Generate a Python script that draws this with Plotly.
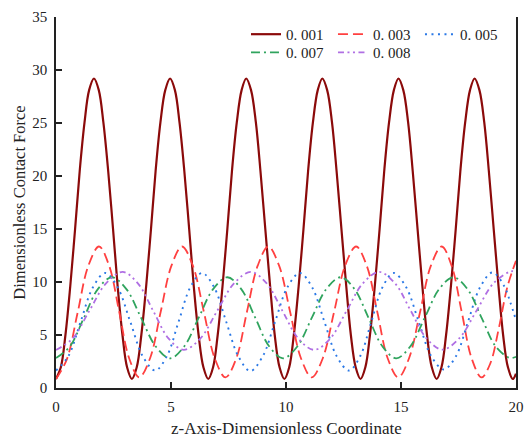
import plotly.graph_objects as go

# ---- data ----
x_001 = [0, 0.21, 0.41, 0.62, 0.83, 1.03, 1.24, 1.44, 1.65, 1.86, 2.06, 2.27, 2.48, 2.68, 2.89, 3.09,
         3.30, 3.51, 3.71, 3.92, 4.13, 4.33, 4.54, 4.75, 4.96, 5.17, 5.37, 5.58, 5.79, 5.99, 6.20, 6.41,
         6.62, 6.83, 7.03, 7.24, 7.45, 7.65, 7.86, 8.07, 8.27, 8.48, 8.69, 8.89, 9.10, 9.31, 9.51, 9.72,
         9.93, 10.14, 10.34, 10.55, 10.76, 10.96, 11.17, 11.38, 11.58, 11.79, 12.00, 12.20, 12.41, 12.62, 12.82, 13.03,
         13.24, 13.45, 13.65, 13.86, 14.07, 14.27, 14.48, 14.69, 14.89, 15.10, 15.31, 15.51, 15.72, 15.93, 16.13, 16.34,
         16.55, 16.76, 16.96, 17.17, 17.38, 17.58, 17.79, 18.00, 18.20, 18.41, 18.62, 18.82, 19.03, 19.24, 19.44, 19.65,
         19.86, 20.0]
y_001 = [0.85, 1.95, 5.0, 9.6, 15.0, 20.45, 25.05, 28.1, 29.2, 28.1, 25.05, 20.45, 15.0, 9.6, 5.0, 1.95,
         0.85, 1.95, 5.0, 9.6, 15.0, 20.45, 25.05, 28.1, 29.2, 28.1, 25.05, 20.45, 15.0, 9.6, 5.0, 1.95,
         0.85, 1.95, 5.0, 9.6, 15.0, 20.45, 25.05, 28.1, 29.2, 28.1, 25.05, 20.45, 15.0, 9.6, 5.0, 1.95,
         0.85, 1.95, 5.0, 9.6, 15.0, 20.45, 25.05, 28.1, 29.2, 28.1, 25.05, 20.45, 15.0, 9.6, 5.0, 1.95,
         0.85, 1.95, 5.0, 9.6, 15.0, 20.45, 25.05, 28.1, 29.2, 28.1, 25.05, 20.45, 15.0, 9.6, 5.0, 1.95,
         0.85, 1.95, 5.0, 9.6, 15.0, 20.45, 25.05, 28.1, 29.2, 28.1, 25.05, 20.45, 15.0, 9.6, 5.0, 1.95,
         0.85, 1.35]

x_003 = [0, 0.47, 0.94, 1.40, 1.87, 2.31, 2.75, 3.18, 3.62, 4.09, 4.55, 5.02, 5.48, 5.95, 6.43, 6.90,
         7.37, 7.84, 8.30, 8.77, 9.23, 9.70, 10.18, 10.65, 11.12, 11.60, 12.09, 12.57, 13.05, 13.51,
         13.97, 14.42, 14.88, 15.35, 15.83, 16.30, 16.77, 17.20, 17.64, 18.07, 18.50, 18.88, 19.25,
         19.62, 20.0]
y_003 = [0.85, 2.7, 7.1, 11.5, 13.35, 11.54, 7.17, 2.81, 1.0, 2.81, 7.17, 11.54, 13.35, 11.54, 7.17, 2.81,
         1.0, 2.81, 7.17, 11.54, 13.35, 11.54, 7.17, 2.81, 1.0, 2.81, 7.17, 11.54, 13.35, 11.54,
         7.17, 2.81, 1.0, 2.81, 7.17, 11.54, 13.35, 11.54, 7.17, 2.81, 1.0, 2.3, 5.6,
         9.5, 12.0]

x_005 = [0, 0.535, 1.07, 1.605, 2.14, 2.68, 3.23, 3.77, 4.31, 4.82, 5.33, 5.84, 6.35, 6.875, 7.40, 7.925,
         8.45, 8.99, 9.525, 10.06, 10.6, 11.135, 11.67, 12.205, 12.74, 13.225, 13.71, 14.195, 14.68,
         15.225, 15.77, 16.315, 16.86, 17.39, 17.92, 18.45, 18.98, 19.49, 19.75, 20.0]
y_005 = [1.65, 3.0, 6.25, 9.5, 10.85, 9.5, 6.25, 3.0, 1.65, 3.0, 6.25, 9.5, 10.85, 9.5, 6.25, 3.0,
         1.6, 3.0, 6.25, 9.5, 10.85, 9.5, 6.25, 3.0, 1.65, 3.0, 6.25, 9.5, 10.85,
         9.5, 6.25, 3.0, 1.75, 3.0, 6.3, 9.55, 10.9, 9.6, 8.1, 6.4]

x_007 = [0, 0.61, 1.215, 1.82, 2.43, 3.06, 3.695, 4.33, 4.96, 5.58, 6.205, 6.83, 7.45, 8.055, 8.66, 9.265,
         9.87, 10.50, 11.125, 11.75, 12.38, 12.98, 13.585, 14.19, 14.79, 15.41, 16.035, 16.66, 17.28,
         17.89, 18.50, 19.11, 19.72, 20.0]
y_007 = [2.82, 3.94, 6.64, 9.33, 10.45, 9.33, 6.64, 3.94, 2.8, 3.94, 6.64, 9.33, 10.45, 9.33, 6.64, 3.94,
         2.8, 3.94, 6.64, 9.33, 10.45, 9.33, 6.64, 3.94, 2.8, 3.94, 6.64, 9.33, 10.45,
         9.33, 6.64, 3.94, 2.85, 2.95]

x_008 = [0, 0.725, 1.45, 2.175, 2.9, 3.56, 4.225, 4.89, 5.55, 6.28, 7.01, 7.74, 8.47, 9.16, 9.845, 10.53,
         11.22, 11.93, 12.635, 13.34, 14.05, 14.74, 15.425, 16.11, 16.8, 17.54, 18.285, 19.03, 19.77, 20.0]
y_008 = [3.58, 4.68, 7.28, 9.87, 10.95, 9.87, 7.28, 4.68, 3.6, 4.68, 7.28, 9.87, 10.95, 9.87, 7.28, 4.68,
         3.6, 4.68, 7.28, 9.87, 10.95, 9.87, 7.28, 4.68, 3.62, 4.7, 7.3, 9.9, 11.0, 10.95]

names = ["0. 001", "0. 003", "0. 005", "0. 007", "0. 008"]
x_ticks = [0, 5, 10, 15, 20]
y_ticks = [0, 5, 10, 15, 20, 25, 30, 35]
x_title = "z-Axis-Dimensionless Coordinate"
y_title = "Dimensionless Contact Force"

FONT = "Liberation Serif"

series = [
    (x_001, y_001, names[0], "#8b0a0a", "solid", 2.2, "legend"),
    (x_003, y_003, names[1], "#ff4040", "10px,5px", 1.8, "legend"),
    (x_005, y_005, names[2], "#2a78e6", "2px,4.5px", 1.9, "legend"),
    (x_007, y_007, names[3], "#30a45e", "9px,4px,2px,4px", 1.8, "legend2"),
    (x_008, y_008, names[4], "#b06fe3", "6px,3.5px,2px,3.5px,2px,3.5px", 1.8, "legend2"),
]

fig = go.Figure()
for xs, ys, nm, col, dash, w, lg in series:
    fig.add_trace(go.Scatter(x=xs, y=ys, name=nm, mode="lines", legend=lg,
                             line=dict(color=col, dash=dash, width=w, shape="spline", smoothing=1.0)))

leg_common = dict(orientation="h", xanchor="left", yanchor="middle", entrywidth=42,
                  font=dict(family=FONT, size=15, color="#222"),
                  bgcolor="rgba(0,0,0,0)", borderwidth=0)

fig.update_layout(
    width=524, height=439,
    margin=dict(l=56, r=8, t=17, b=51, autoexpand=False),
    paper_bgcolor="white", plot_bgcolor="white",
    font=dict(family=FONT, size=15, color="#222"),
    showlegend=True,
    legend=dict(x=0.413, y=0.953, **leg_common),
    legend2=dict(x=0.413, y=0.904, **leg_common),
    xaxis=dict(range=[0, 20], tickvals=x_ticks, ticks="inside", ticklen=6, tickwidth=1.5,
               tickcolor="#222", showline=True, linecolor="#222", linewidth=1.5,
               showgrid=False, zeroline=False, mirror=False, ticklabelstandoff=4, automargin=False),
    yaxis=dict(range=[0, 35], tickvals=y_ticks, ticks="inside", ticklen=6, tickwidth=1.5,
               tickcolor="#222", showline=True, linecolor="#222", linewidth=1.5,
               showgrid=False, zeroline=False, mirror=True, ticklabelstandoff=4, automargin=False,
               title=dict(text=y_title, font=dict(size=16.5), standoff=2)),
    annotations=[dict(text=x_title, xref="paper", yref="paper", x=0.5, y=-0.108,
                      xanchor="center", yanchor="middle", showarrow=False,
                      font=dict(family=FONT, size=17, color="#222"))],
)

fig.write_html("out.html")
